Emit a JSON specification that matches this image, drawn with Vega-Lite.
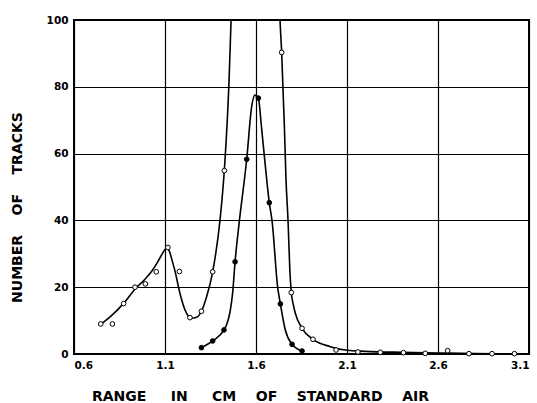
{
  "$schema": "https://vega.github.io/schema/vega-lite/v6.json",
  "width": 455,
  "height": 334,
  "autosize": {"type": "none"},
  "padding": {"left": 74, "top": 20, "right": 8, "bottom": 49},
  "background": "white",
  "config": {
    "view": {"stroke": "black", "strokeWidth": 2},
    "axis": {
      "grid": true,
      "gridColor": "black",
      "gridOpacity": 1,
      "gridWidth": 1.2,
      "domain": false,
      "ticks": false,
      "labelFont": "DejaVu Sans",
      "labelFontWeight": "bold",
      "labelFontSize": 10.5,
      "labelColor": "black",
      "titleFont": "DejaVu Sans",
      "titleFontWeight": "bold",
      "titleFontSize": 14,
      "titleColor": "black"
    }
  },
  "datasets": {
    "curves": [
      {"s": "A", "x": 0.748, "y": 9.0},
      {"s": "A", "x": 0.80, "y": 11.2},
      {"s": "A", "x": 0.87, "y": 15.0},
      {"s": "A", "x": 0.935, "y": 19.4},
      {"s": "A", "x": 0.99, "y": 22.4},
      {"s": "A", "x": 1.03, "y": 25.0},
      {"s": "A", "x": 1.06, "y": 27.6},
      {"s": "A", "x": 1.085, "y": 30.0},
      {"s": "A", "x": 1.10, "y": 31.3},
      {"s": "A", "x": 1.112, "y": 31.7},
      {"s": "A", "x": 1.124, "y": 30.8},
      {"s": "A", "x": 1.14, "y": 27.8},
      {"s": "A", "x": 1.155, "y": 24.8},
      {"s": "A", "x": 1.182, "y": 18.2},
      {"s": "A", "x": 1.21, "y": 13.2},
      {"s": "A", "x": 1.243, "y": 10.7},
      {"s": "A", "x": 1.274, "y": 11.0},
      {"s": "A", "x": 1.30, "y": 12.8},
      {"s": "A", "x": 1.329, "y": 17.2},
      {"s": "A", "x": 1.362, "y": 24.6},
      {"s": "A", "x": 1.402, "y": 40.0},
      {"s": "A", "x": 1.426, "y": 55.0},
      {"s": "A", "x": 1.452, "y": 82.0},
      {"s": "A", "x": 1.463, "y": 100.0},
      {"s": "A", "x": 1.475, "y": 120.0},
      {"s": "A", "x": 1.72, "y": 120.0},
      {"s": "A", "x": 1.732, "y": 100.0},
      {"s": "A", "x": 1.741, "y": 90.3},
      {"s": "A", "x": 1.756, "y": 68.0},
      {"s": "A", "x": 1.765, "y": 52.0},
      {"s": "A", "x": 1.776, "y": 40.0},
      {"s": "A", "x": 1.786, "y": 25.0},
      {"s": "A", "x": 1.794, "y": 18.4},
      {"s": "A", "x": 1.805, "y": 14.8},
      {"s": "A", "x": 1.816, "y": 12.2},
      {"s": "A", "x": 1.853, "y": 7.7},
      {"s": "A", "x": 1.913, "y": 4.4},
      {"s": "A", "x": 2.008, "y": 2.2},
      {"s": "A", "x": 2.1, "y": 1.1},
      {"s": "A", "x": 2.2, "y": 0.8},
      {"s": "A", "x": 2.4, "y": 0.5},
      {"s": "A", "x": 2.6, "y": 0.3},
      {"s": "A", "x": 2.8, "y": 0.15},
      {"s": "A", "x": 3.02, "y": 0.0},
      {"s": "B", "x": 1.30, "y": 1.9},
      {"s": "B", "x": 1.362, "y": 3.9},
      {"s": "B", "x": 1.424, "y": 7.2},
      {"s": "B", "x": 1.44, "y": 9.0},
      {"s": "B", "x": 1.457, "y": 12.5},
      {"s": "B", "x": 1.472, "y": 18.5},
      {"s": "B", "x": 1.485, "y": 27.6},
      {"s": "B", "x": 1.509, "y": 40.0},
      {"s": "B", "x": 1.549, "y": 58.3},
      {"s": "B", "x": 1.576, "y": 74.0},
      {"s": "B", "x": 1.594, "y": 77.5},
      {"s": "B", "x": 1.613, "y": 76.6},
      {"s": "B", "x": 1.63, "y": 68.0},
      {"s": "B", "x": 1.65, "y": 57.0},
      {"s": "B", "x": 1.673, "y": 45.3},
      {"s": "B", "x": 1.688, "y": 40.0},
      {"s": "B", "x": 1.719, "y": 20.0},
      {"s": "B", "x": 1.734, "y": 15.0},
      {"s": "B", "x": 1.761, "y": 7.2},
      {"s": "B", "x": 1.798, "y": 2.9},
      {"s": "B", "x": 1.853, "y": 0.9}
    ],
    "points": [
      {"s": "A", "x": 0.747, "y": 9.0},
      {"s": "A", "x": 0.811, "y": 9.0},
      {"s": "A", "x": 0.873, "y": 15.1},
      {"s": "A", "x": 0.935, "y": 20.0},
      {"s": "A", "x": 0.992, "y": 21.0},
      {"s": "A", "x": 1.052, "y": 24.6},
      {"s": "A", "x": 1.116, "y": 31.9},
      {"s": "A", "x": 1.179, "y": 24.7},
      {"s": "A", "x": 1.237, "y": 10.9},
      {"s": "A", "x": 1.30, "y": 12.8},
      {"s": "A", "x": 1.362, "y": 24.6},
      {"s": "A", "x": 1.426, "y": 54.9},
      {"s": "A", "x": 1.741, "y": 90.3},
      {"s": "A", "x": 1.794, "y": 18.4},
      {"s": "A", "x": 1.853, "y": 7.7},
      {"s": "A", "x": 1.913, "y": 4.4},
      {"s": "A", "x": 2.04, "y": 1.2},
      {"s": "A", "x": 2.16, "y": 0.6},
      {"s": "A", "x": 2.283, "y": 0.5},
      {"s": "A", "x": 2.41, "y": 0.4},
      {"s": "A", "x": 2.53, "y": 0.2},
      {"s": "A", "x": 2.653, "y": 1.0},
      {"s": "A", "x": 2.77, "y": 0.1},
      {"s": "A", "x": 2.897, "y": 0.1},
      {"s": "A", "x": 3.02, "y": 0.1},
      {"s": "B", "x": 1.30, "y": 1.9},
      {"s": "B", "x": 1.362, "y": 3.9},
      {"s": "B", "x": 1.424, "y": 7.2},
      {"s": "B", "x": 1.485, "y": 27.6},
      {"s": "B", "x": 1.549, "y": 58.3},
      {"s": "B", "x": 1.613, "y": 76.6},
      {"s": "B", "x": 1.673, "y": 45.3},
      {"s": "B", "x": 1.734, "y": 15.0},
      {"s": "B", "x": 1.798, "y": 2.9},
      {"s": "B", "x": 1.853, "y": 0.9}
    ]
  },
  "encoding": {
    "x": {
      "field": "x",
      "type": "quantitative",
      "scale": {"domain": [0.6, 3.1], "nice": false, "zero": false},
      "axis": {
        "values": [0.6, 1.1, 1.6, 2.1, 2.6, 3.1],
        "format": ".1f",
        "labelPadding": 6,
        "title": "RANGE\u00a0\u00a0\u00a0\u00a0 IN\u00a0\u00a0\u00a0\u00a0 CM\u00a0\u00a0\u00a0 OF\u00a0\u00a0\u00a0 STANDARD\u00a0\u00a0\u00a0 AIR",
        "titleX": 186,
        "titleY": 46,
        "titleAlign": "center",
        "titleBaseline": "alphabetic"
      }
    },
    "y": {
      "field": "y",
      "type": "quantitative",
      "scale": {"domain": [0, 100], "nice": false},
      "axis": {
        "values": [0, 20, 40, 60, 80, 100],
        "labelPadding": 6,
        "title": "NUMBER\u00a0\u00a0\u00a0 OF\u00a0\u00a0\u00a0 TRACKS",
        "titleAngle": -90,
        "titleX": -57,
        "titleY": 187,
        "titleAlign": "center",
        "titleBaseline": "middle"
      }
    }
  },
  "layer": [
    {
      "data": {"name": "curves"},
      "mark": {"type": "line", "interpolate": "monotone", "color": "black", "strokeWidth": 1.6, "clip": true},
      "encoding": {"detail": {"field": "s"}}
    },
    {
      "data": {"name": "points"},
      "mark": {"type": "point", "shape": "circle", "filled": true, "size": 22, "stroke": "black", "strokeWidth": 1, "opacity": 1},
      "encoding": {
        "fill": {"field": "s", "type": "nominal", "scale": {"domain": ["A", "B"], "range": ["white", "black"]}, "legend": null}
      }
    }
  ]
}
